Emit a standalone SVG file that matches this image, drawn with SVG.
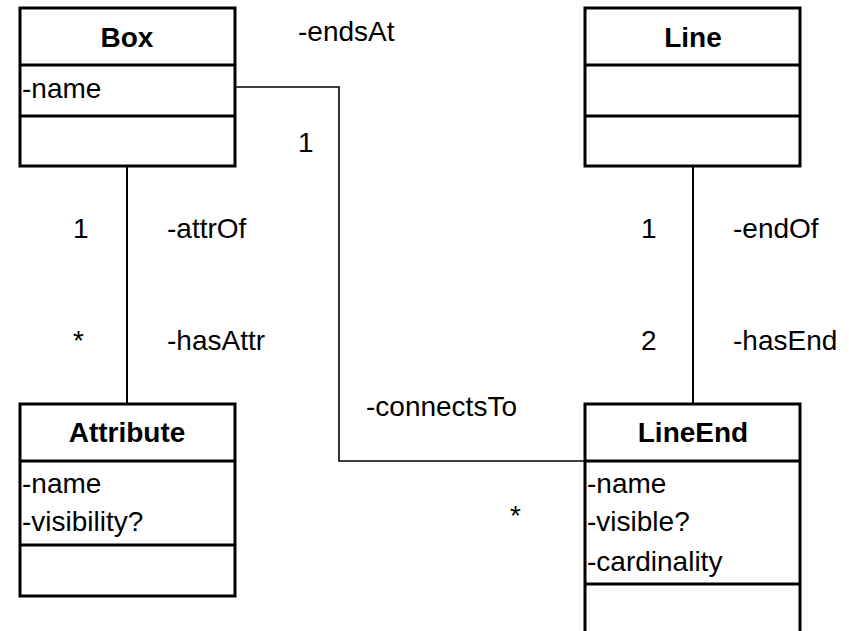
<svg xmlns="http://www.w3.org/2000/svg" width="849" height="631" viewBox="0 0 849 631">
<style>
.box{fill:#fff;stroke:#000;stroke-width:3}
.div{stroke:#000;stroke-width:3}
.conn{fill:none;stroke:#000;stroke-width:2}
text{font-family:"Liberation Sans",Arial,sans-serif;font-size:28px;fill:#000}
.title{font-weight:bold;text-anchor:middle}
</style>
<rect width="849" height="631" fill="#fff"/>
<g id="connectors">
<line class="conn" x1="127" y1="166" x2="127" y2="404"/>
<line class="conn" x1="693" y1="166" x2="693" y2="404"/>
<polyline class="conn" style="stroke-width:1.6" points="235,87 339,87 339,461 585,461"/>
</g>
<g id="labels">
<text x="298" y="41">-endsAt</text>
<text x="298" y="152">1</text>
<text x="73" y="238">1</text>
<text x="167" y="238">-attrOf</text>
<text x="73" y="350">*</text>
<text x="167" y="350">-hasAttr</text>
<text x="641" y="238">1</text>
<text x="733" y="238">-endOf</text>
<text x="641" y="350">2</text>
<text x="733" y="350">-hasEnd</text>
<text x="366" y="416">-connectsTo</text>
<text x="510" y="525">*</text>
</g>
<g id="Box">
<rect class="box" x="20" y="8" width="215" height="158"/>
<line class="div" x1="20" y1="65" x2="235" y2="65"/>
<line class="div" x1="20" y1="116" x2="235" y2="116"/>
<text class="title" x="127" y="47">Box</text>
<text x="22" y="98">-name</text>
</g>
<g id="Line">
<rect class="box" x="585" y="8" width="215" height="158"/>
<line class="div" x1="585" y1="65" x2="800" y2="65"/>
<line class="div" x1="585" y1="116" x2="800" y2="116"/>
<text class="title" x="693" y="47">Line</text>
</g>
<g id="Attribute">
<rect class="box" x="20" y="404" width="215" height="192"/>
<line class="div" x1="20" y1="461" x2="235" y2="461"/>
<line class="div" x1="20" y1="545" x2="235" y2="545"/>
<text class="title" x="127" y="442">Attribute</text>
<text x="22" y="493">-name</text>
<text x="22" y="531">-visibility?</text>
</g>
<g id="LineEnd">
<rect class="box" x="585" y="404" width="215" height="240"/>
<line class="div" x1="585" y1="461" x2="800" y2="461"/>
<line class="div" x1="585" y1="584" x2="800" y2="584"/>
<text class="title" x="693" y="442">LineEnd</text>
<text x="587" y="493">-name</text>
<text x="587" y="531">-visible?</text>
<text x="587" y="571">-cardinality</text>
</g>
</svg>
